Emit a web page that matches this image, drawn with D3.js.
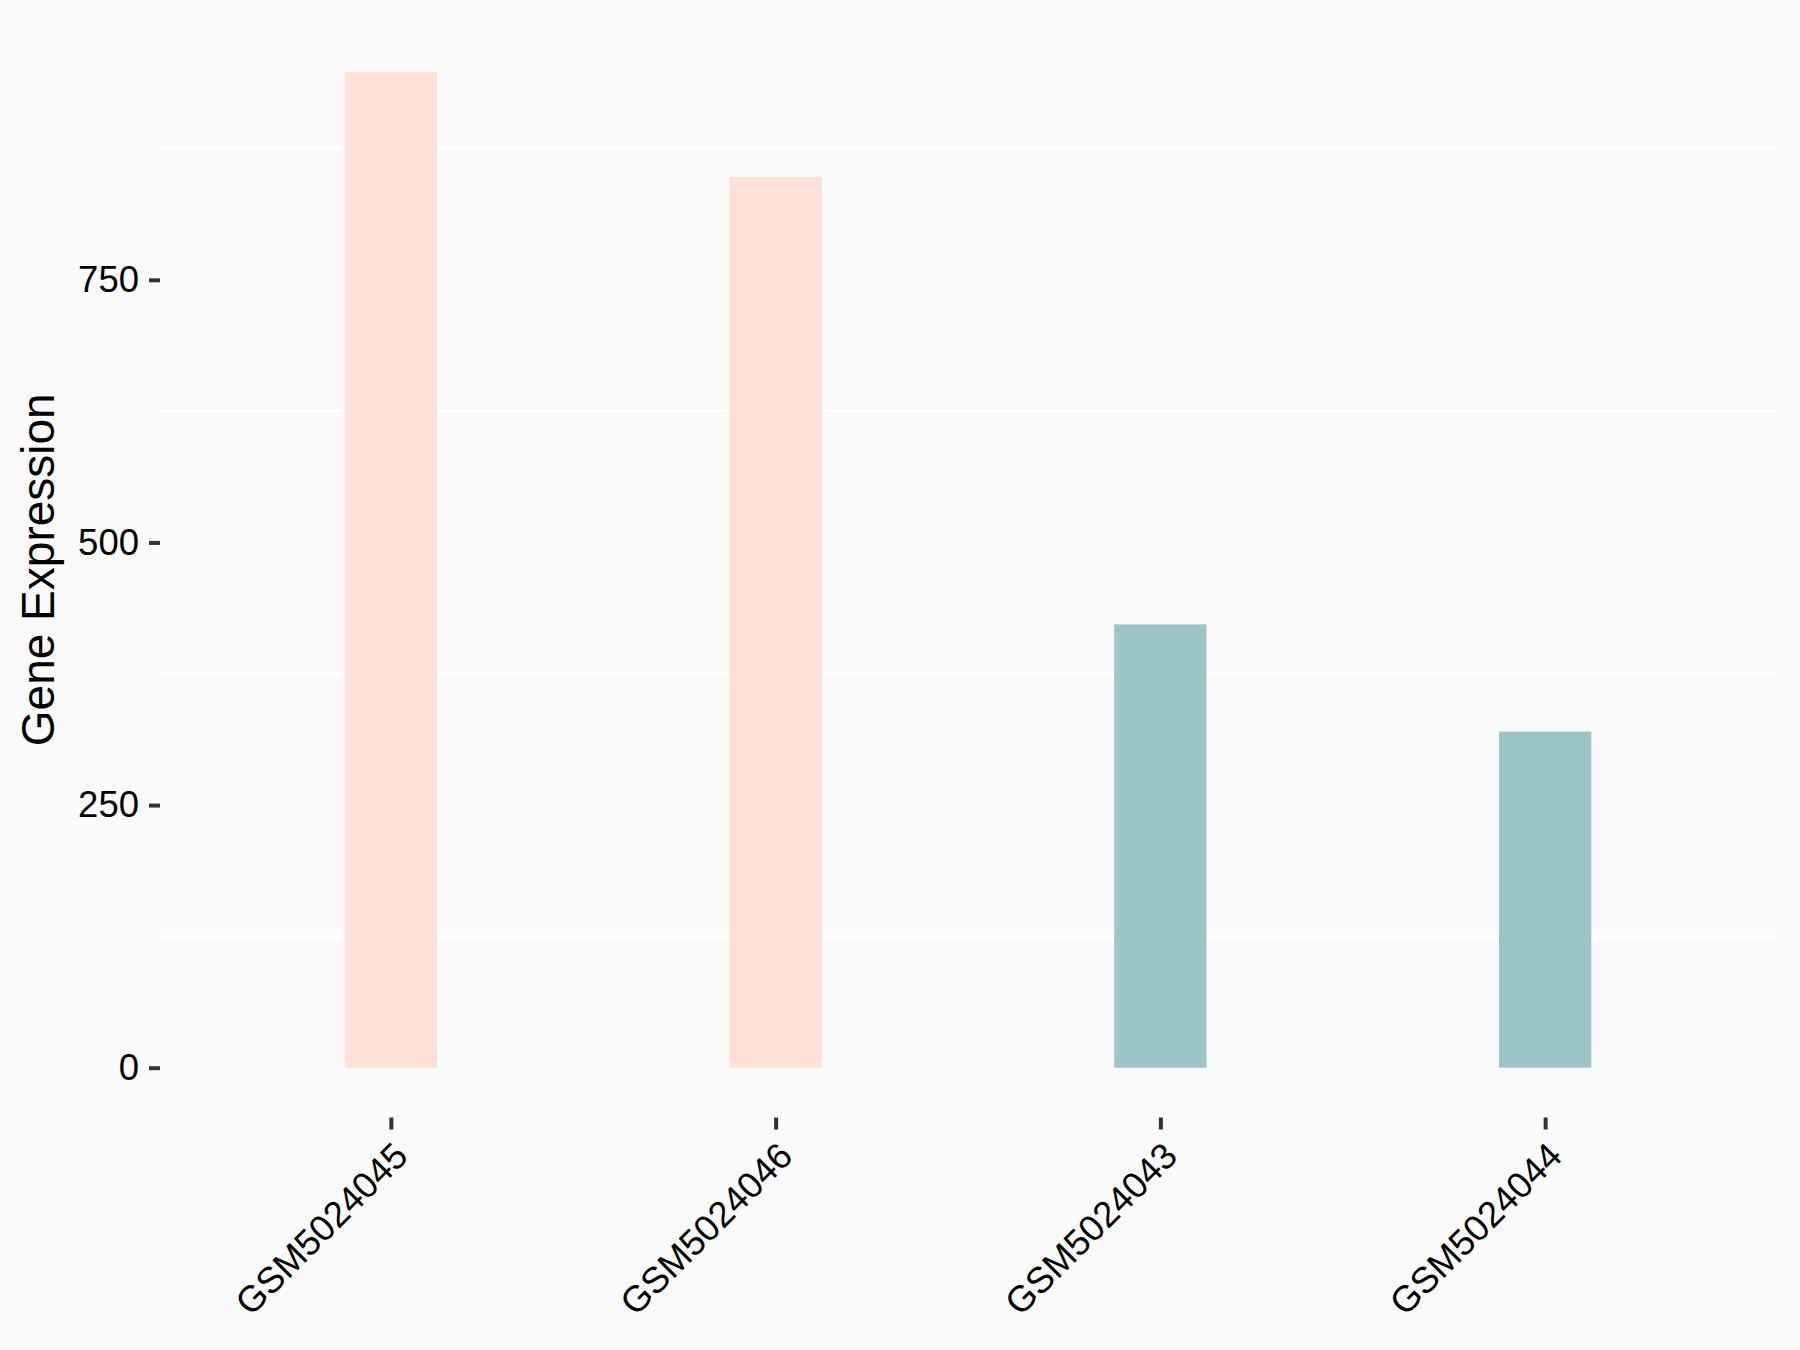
<!DOCTYPE html>
<html>
<head>
<meta charset="utf-8">
<script src="https://cdn.jsdelivr.net/npm/d3@7"></script>
<style>
  html, body { margin: 0; padding: 0; background: #FAFAFA; }
  svg { display: block; }
  text { font-family: "Liberation Sans", Arial, sans-serif; fill: #000; }
</style>
</head>
<body>
<svg id="chart" width="1800" height="1350"></svg>
<script>
const categories = ["GSM5024045", "GSM5024046", "GSM5024043", "GSM5024044"];
const values = [948, 848, 422, 320];
const groups = ["A", "A", "B", "B"];
const groupColors = { A: "#FEE0D6", B: "#9DC4C8" };
const yTicks = [0, 250, 500, 750];
const yMinorTicks = [125, 375, 625, 875];
const yTitle = "Gene Expression";

const W = 1800, H = 1350;
const panel = { left: 160, right: 1776, top: 22, bottom: 1117.5 };
const svg = d3.select("#chart");
svg.append("rect").attr("width", W).attr("height", H).attr("fill", "#FAFAFA");

const maxV = d3.max(values);
const yLo = -0.05 * maxV, yHi = maxV * 1.05;
const y = d3.scaleLinear().domain([yLo, yHi]).range([panel.bottom, panel.top]);
const x = d3.scalePoint().domain(categories).range([panel.left, panel.right]).padding(0.6);
const barW = x.step() * 0.24;

// minor gridlines
svg.append("g").selectAll("line").data(yMinorTicks).join("line")
  .attr("x1", panel.left).attr("x2", panel.right)
  .attr("y1", d => y(d)).attr("y2", d => y(d))
  .attr("stroke", "#FFFFFF").attr("stroke-width", 2);

// bars
svg.append("g").selectAll("rect").data(categories).join("rect")
  .attr("x", (d) => x(d) - barW / 2)
  .attr("width", barW)
  .attr("y", (d, i) => y(values[i]))
  .attr("height", (d, i) => y(0) - y(values[i]))
  .attr("fill", (d, i) => groupColors[groups[i]]);

// y axis
const yAxis = d3.axisLeft(y).tickValues(yTicks).tickSize(11).tickPadding(10);
const gy = svg.append("g").attr("transform", `translate(${panel.left},0)`).call(yAxis);
gy.select(".domain").remove();
gy.selectAll(".tick line").attr("stroke", "#333333").attr("stroke-width", 4);
gy.selectAll(".tick text").attr("font-size", 36.5).attr("fill", "#000")
  .attr("font-family", "'Liberation Sans', Arial, sans-serif");

// x axis
const xAxis = d3.axisBottom(x).tickSize(12).tickPadding(0);
const gx = svg.append("g").attr("transform", `translate(0,${panel.bottom})`).call(xAxis);
gx.select(".domain").remove();
gx.selectAll(".tick line").attr("stroke", "#333333").attr("stroke-width", 4);
gx.selectAll(".tick text")
  .attr("font-size", 36.5).attr("fill", "#000")
  .attr("font-family", "'Liberation Sans', Arial, sans-serif")
  .attr("text-anchor", "end")
  .attr("y", 0).attr("dy", "0.72em")
  .attr("transform", "translate(0,22) rotate(-45)");

// y title
svg.append("text")
  .attr("transform", `translate(54,${(panel.top + panel.bottom) / 2}) rotate(-90)`)
  .attr("text-anchor", "middle")
  .attr("font-size", 46)
  .text(yTitle);
</script>
</body>
</html>
